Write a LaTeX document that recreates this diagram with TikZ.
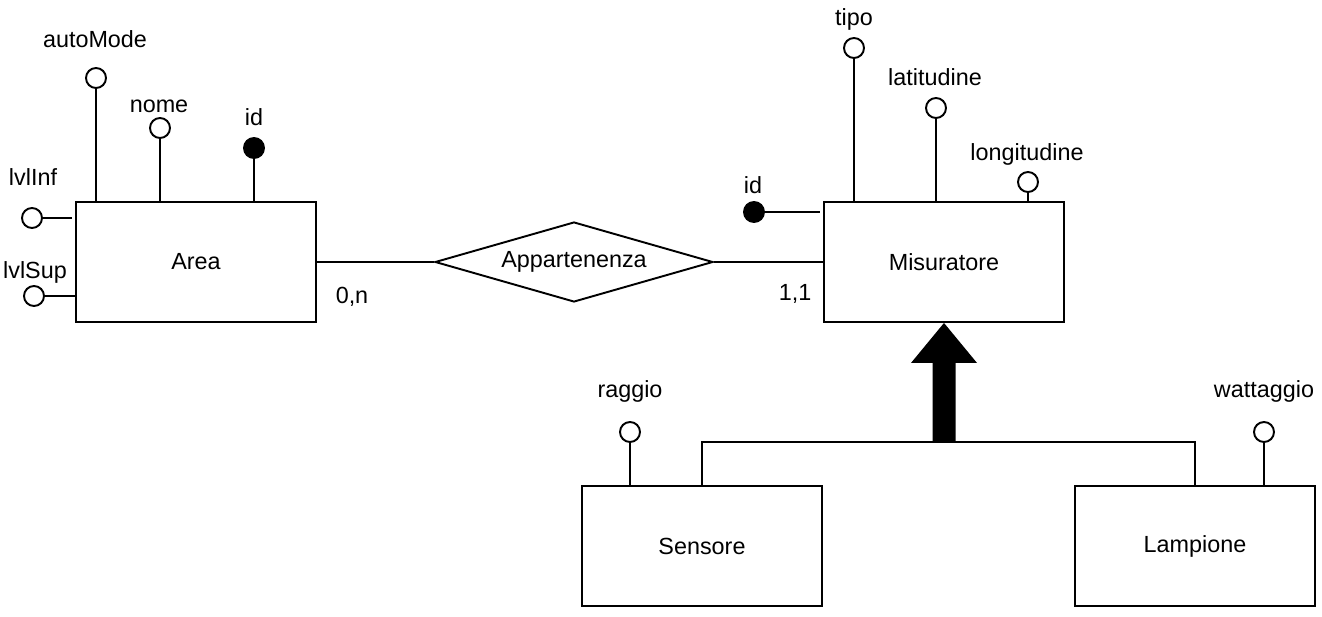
\documentclass[tikz,border=0pt]{standalone}
\usepackage{fontspec}
\setmainfont{Liberation Sans}
\usetikzlibrary{shapes.geometric}

\begin{document}
\begin{tikzpicture}[x=0.02cm,y=-0.02cm,line width=1.1pt,font=\fontsize{13.3}{16}\selectfont,
  entity/.style={draw,rectangle,minimum width=4.8cm,minimum height=2.4cm,inner sep=0pt},
  attr/.style={draw,circle,fill=white,minimum size=0.4cm,inner sep=0pt},
  key/.style={attr,fill=black},
  lbl/.style={anchor=base,inner sep=0pt}]
\tikzstyle{relation} = [draw,diamond,aspect=3.5,minimum width=5.56cm,minimum height=1.6cm,inner sep=0pt]

\useasboundingbox (0,0) rectangle (1322,616);

% Entities
\node[entity] (area) at (196,262) {Area};
\node[entity] (misuratore) at (944,262) {Misuratore};
\node[entity] (sensore) at (702,546) {Sensore};
\node[entity] (lampione) at (1195,546) {Lampione};

% Relationship
\node[relation] (appartenenza) at (574,262) {Appartenenza};
\draw (area.east) -- (appartenenza.west);
\draw (appartenenza.east) -- (misuratore.west);
\node[lbl] (cardArea) at (352,303) {0,n};
\node[lbl] (cardMis) at (795,300) {1,1};

% Attributes of Area
\node[attr] (autoMode) at (96,78) {};
\node[attr] (nome) at (160,128) {};
\node[key] (areaId) at (254,148) {};
\node[attr] (lvlInf) at (32,218) {};
\node[attr] (lvlSup) at (34,296) {};
\draw (autoMode) -- (autoMode |- area.north);
\draw (nome) -- (nome |- area.north);
\draw (areaId) -- (areaId |- area.north);
\draw[shorten >=2pt] (lvlInf) -- (lvlInf -| area.west);
\draw (lvlSup) -- (lvlSup -| area.west);
\node[lbl] (autoModeLbl) at (95,47) {autoMode};
\node[lbl] (nomeLbl) at (159,112) {nome};
\node[lbl] (areaIdLbl) at (254,125) {id};
\node[lbl] (lvlInfLbl) at (33,185) {lvlInf};
\node[lbl] (lvlSupLbl) at (35,278) {lvlSup};

% Attributes of Misuratore
\node[attr] (tipo) at (854,48) {};
\node[attr] (latitudine) at (936,108) {};
\node[attr] (longitudine) at (1028,182) {};
\node[key] (misId) at (754,212) {};
\draw (tipo) -- (tipo |- misuratore.north);
\draw (latitudine) -- (latitudine |- misuratore.north);
\draw (longitudine) -- (longitudine |- misuratore.north);
\draw[shorten >=2pt] (misId) -- (misId -| misuratore.west);
\node[lbl] (tipoLbl) at (854,25) {tipo};
\node[lbl] (latitudineLbl) at (935,85) {latitudine};
\node[lbl] (longitudineLbl) at (1027,160) {longitudine};
\node[lbl] (misIdLbl) at (753,193) {id};

% Attributes of Sensore and Lampione
\node[attr] (raggio) at (630,432) {};
\node[attr] (wattaggio) at (1264,432) {};
\draw (raggio) -- (raggio |- sensore.north);
\draw (wattaggio) -- (wattaggio |- lampione.north);
\node[lbl] (raggioLbl) at (630,397) {raggio};
\node[lbl] (wattaggioLbl) at (1264,397) {wattaggio};

% Generalization
\coordinate (isaJoin) at (944,442);
\fill (misuratore.south) -- ++(33,40) -- ++(-21.5,0) -- ++(0,80) -- ++(-23,0) -- ++(0,-80) -- ++(-21.5,0) -- cycle;
\draw (sensore.north) |- (isaJoin) -| (lampione.north);

\end{tikzpicture}
\end{document}
